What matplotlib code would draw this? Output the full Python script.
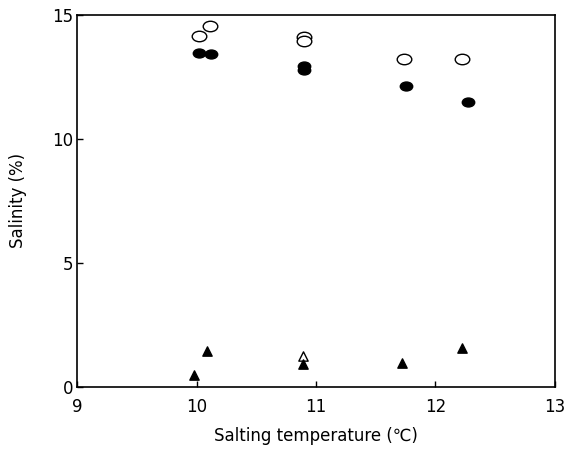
import matplotlib
matplotlib.use("Agg")
import matplotlib.pyplot as plt
import numpy as np
from matplotlib.path import Path

# open circles
open_x = [10.02, 10.11, 10.9, 10.9, 11.74, 12.22]
open_y = [14.15, 14.55, 14.1, 13.95, 13.2, 13.2]
# filled circles
fill_x = [10.02, 10.12, 10.9, 10.9, 11.75, 12.27]
fill_y = [13.47, 13.43, 12.95, 12.75, 12.14, 11.5]
# filled triangles
tri_x = [9.98, 10.09, 10.89, 11.72, 12.22]
tri_y = [0.5, 1.45, 0.93, 0.97, 1.57]
# open triangle
otri_x = [10.89]
otri_y = [1.25]

# flattened circle marker, like the printed figure
circ = Path.unit_circle()
ellipse = Path(circ.vertices * np.array([1.0, 0.72]), circ.codes)

plt.rcParams['font.family'] = ['DejaVu Sans']
fig = plt.figure(figsize=(5.72, 4.57), dpi=100)
ax = fig.add_axes([0.135, 0.153, 0.835, 0.815])

ax.scatter(open_x, open_y, s=110, marker=ellipse, facecolors='white', edgecolors='black', linewidths=1.0, zorder=3)
ax.scatter(fill_x, fill_y, s=80, marker=ellipse, color='black', zorder=3)
ax.scatter(otri_x, otri_y, s=45, marker='^', facecolors='white', edgecolors='black', linewidths=1.0, zorder=3)
ax.scatter(tri_x, tri_y, s=45, marker='^', color='black', zorder=4)

ax.set_xlim(9, 13)
ax.set_ylim(0, 15)
ax.set_xticks([9, 10, 11, 12, 13])
ax.set_yticks([0, 5, 10, 15])
ax.tick_params(direction='in', length=4, labelsize=12, width=1)
ax.tick_params(axis='x', pad=8)
ax.tick_params(axis='y', pad=3)
for s in ax.spines.values():
    s.set_linewidth(1.2)
ax.set_xlabel("Salting temperature (\u2103)", fontsize=12, labelpad=8)
ax.set_ylabel("Salinity (%)", fontsize=12, labelpad=18)

fig.savefig("out.png", dpi=100)
